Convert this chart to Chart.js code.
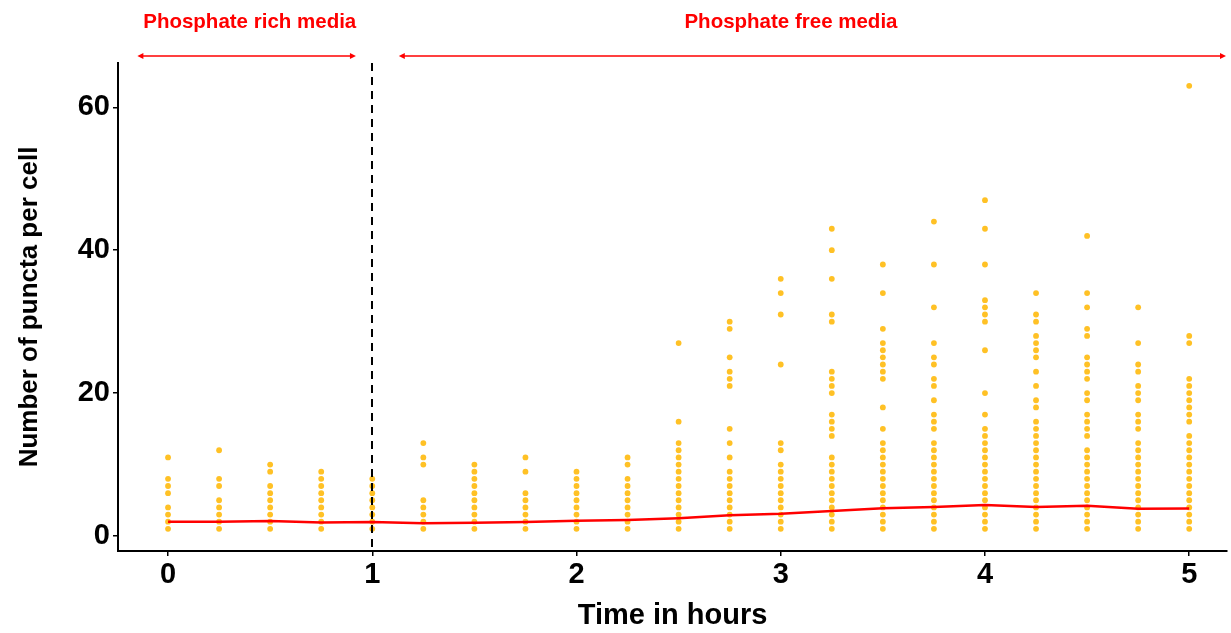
<!DOCTYPE html>
<html>
<head>
<meta charset="utf-8">
<script src="https://cdn.jsdelivr.net/npm/chart.js@4/dist/chart.umd.min.js"></script>
<style>
  body { margin: 0; background: #fff; }
  #wrap { width: 1231px; height: 633px; }
</style>
</head>
<body>
<div id="wrap"><canvas id="puncta"></canvas></div>
<script>
// time points (hours)
const times = [0, 0.25, 0.5, 0.75, 1, 1.25, 1.5, 1.75, 2, 2.25, 2.5, 2.75, 3, 3.25, 3.5, 3.75, 4, 4.25, 4.5, 4.75, 5];

// puncta counts seen at each time point (one list per time)
const puncta = [
  [1, 2, 3, 4, 6, 7, 8, 11],
  [1, 2, 3, 4, 5, 7, 8, 12],
  [1, 2, 3, 4, 5, 6, 7, 9, 10],
  [1, 2, 3, 4, 5, 6, 7, 8, 9],
  [1, 2, 3, 4, 5, 6, 7, 8],
  [1, 2, 3, 4, 5, 10, 11, 13],
  [1, 2, 3, 4, 5, 6, 7, 8, 9, 10],
  [1, 2, 3, 4, 5, 6, 9, 11],
  [1, 2, 3, 4, 5, 6, 7, 8, 9],
  [1, 2, 3, 4, 5, 6, 7, 8, 10, 11],
  [1, 2, 3, 4, 5, 6, 7, 8, 9, 10, 11, 12, 13, 16, 27],
  [1, 2, 3, 4, 5, 6, 7, 8, 9, 11, 13, 15, 21, 22, 23, 25, 29, 30],
  [1, 2, 3, 4, 5, 6, 7, 8, 9, 10, 12, 13, 24, 31, 34, 36],
  [1, 2, 3, 4, 5, 6, 7, 8, 9, 10, 11, 14, 15, 16, 17, 20, 21, 22, 23, 30, 31, 36, 40, 43],
  [1, 2, 3, 4, 5, 6, 7, 8, 9, 10, 11, 12, 13, 15, 18, 22, 23, 24, 25, 26, 27, 29, 34, 38],
  [1, 2, 3, 4, 5, 6, 7, 8, 9, 10, 11, 12, 13, 15, 16, 17, 19, 21, 22, 24, 25, 27, 32, 38, 44],
  [1, 2, 3, 4, 5, 6, 7, 8, 9, 10, 11, 12, 13, 14, 15, 17, 20, 26, 30, 31, 32, 33, 38, 43, 47],
  [1, 2, 3, 4, 5, 6, 7, 8, 9, 10, 11, 12, 13, 14, 15, 16, 18, 19, 21, 23, 25, 26, 27, 28, 30, 31, 34],
  [1, 2, 3, 4, 5, 6, 7, 8, 9, 10, 11, 12, 14, 15, 16, 17, 19, 20, 22, 23, 24, 25, 28, 29, 32, 34, 42],
  [1, 2, 3, 4, 5, 6, 7, 8, 9, 10, 11, 12, 13, 15, 16, 17, 19, 20, 21, 23, 24, 27, 32],
  [1, 2, 3, 4, 5, 6, 7, 8, 9, 10, 11, 12, 13, 14, 16, 17, 18, 19, 20, 21, 22, 27, 28, 63]
];

// red trend line
const trend = [2.0, 2.0, 2.1, 1.9, 1.95, 1.8, 1.85, 1.95, 2.15, 2.25, 2.5, 2.9, 3.1, 3.5, 3.9, 4.05, 4.35, 4.05, 4.25, 3.8, 3.85];

const xTicks = [0, 1, 2, 3, 4, 5];
const yTicks = [0, 20, 40, 60];

// media phases: label, label centre, arrow from, arrow to (hours)
const phaseLabels = ['Phosphate rich media', 'Phosphate free media'];
const phaseLabelAt = [0.40, 3.05];
const phaseFrom = [-0.15, 1.13];
const phaseTo = [0.92, 5.18];
const switchTime = 1;

const dots = [];
times.forEach((t, i) => puncta[i].forEach(v => dots.push({x: t, y: v})));

const fontFam = '"Liberation Sans", Arial, Helvetica, sans-serif';

function head(ctx, x, y, dir) {
  ctx.beginPath();
  ctx.moveTo(x, y);
  ctx.lineTo(x - dir * 6, y - 3);
  ctx.lineTo(x - dir * 6, y + 3);
  ctx.closePath();
  ctx.fill();
}

const extras = {
  id: 'extras',
  afterDatasetsDraw(chart) {
    const {ctx, chartArea, scales} = chart;
    const x = scales.x;
    ctx.save();
    // dashed switch line
    ctx.strokeStyle = '#000';
    ctx.lineWidth = 2;
    ctx.setLineDash([8, 6]);
    const sx = Math.round(x.getPixelForValue(switchTime));
    ctx.beginPath();
    ctx.moveTo(sx, chartArea.top);
    ctx.lineTo(sx, chartArea.bottom);
    ctx.stroke();
    ctx.setLineDash([]);

    // phase arrows and labels
    ctx.strokeStyle = '#ff0000';
    ctx.fillStyle = '#ff0000';
    ctx.lineWidth = 1.5;
    ctx.font = 'bold 20.5px ' + fontFam;
    ctx.textAlign = 'center';
    ctx.textBaseline = 'middle';
    const ay = 56;
    phaseLabels.forEach((label, i) => {
      const x1 = x.getPixelForValue(phaseFrom[i]);
      const x2 = x.getPixelForValue(phaseTo[i]);
      ctx.beginPath();
      ctx.moveTo(x1 + 3, ay);
      ctx.lineTo(x2 - 3, ay);
      ctx.stroke();
      head(ctx, x1, ay, -1);
      head(ctx, x2, ay, 1);
      ctx.fillText(label, x.getPixelForValue(phaseLabelAt[i]), 22);
    });
    ctx.restore();
  }
};

new Chart(document.getElementById('puncta'), {
  type: 'scatter',
  data: {
    datasets: [
      {
        type: 'line',
        data: times.map((t, i) => ({x: t, y: trend[i]})),
        borderColor: '#ff0000',
        borderWidth: 2.5,
        pointRadius: 0,
        tension: 0,
        order: 0
      },
      {
        data: dots,
        backgroundColor: '#ffc125',
        borderWidth: 0,
        pointRadius: 2.9,
        order: 1
      }
    ]
  },
  options: {
    responsive: true,
    maintainAspectRatio: false,
    animation: false,
    layout: { padding: { top: 63, right: 1, left: 0, bottom: 0 } },
    plugins: { legend: { display: false }, tooltip: { enabled: false } },
    scales: {
      x: {
        type: 'linear',
        min: -0.245,
        max: 5.185,
        afterBuildTicks: s => { s.ticks = xTicks.map(v => ({value: v})); },
        afterFit: s => { s.height = 82; },
        grid: { drawOnChartArea: false, drawTicks: true, tickLength: 5, color: '#000', lineWidth: 1.5 },
        border: { display: true, color: '#000', width: 2 },
        ticks: { color: '#000', padding: 2, font: { family: fontFam, size: 29, weight: 'bold' }, maxRotation: 0 },
        title: { display: true, text: 'Time in hours', color: '#000', padding: { top: 4, bottom: 0 }, font: { family: fontFam, size: 29, weight: 'bold' } }
      },
      y: {
        min: -2.1,
        max: 66.2,
        afterBuildTicks: s => { s.ticks = yTicks.map(v => ({value: v})); },
        afterFit: s => { s.width = 118; },
        grid: { drawOnChartArea: false, drawTicks: true, tickLength: 5, color: '#000', lineWidth: 1.5 },
        border: { display: true, color: '#000', width: 2 },
        ticks: { color: '#000', padding: 3, font: { family: fontFam, size: 29, weight: 'bold' } },
        title: { display: true, text: 'Number of puncta per cell', color: '#000', padding: { top: 14, bottom: 0 }, font: { family: fontFam, size: 26, weight: 'bold' } }
      }
    }
  },
  plugins: [extras]
});
</script>
</body>
</html>
